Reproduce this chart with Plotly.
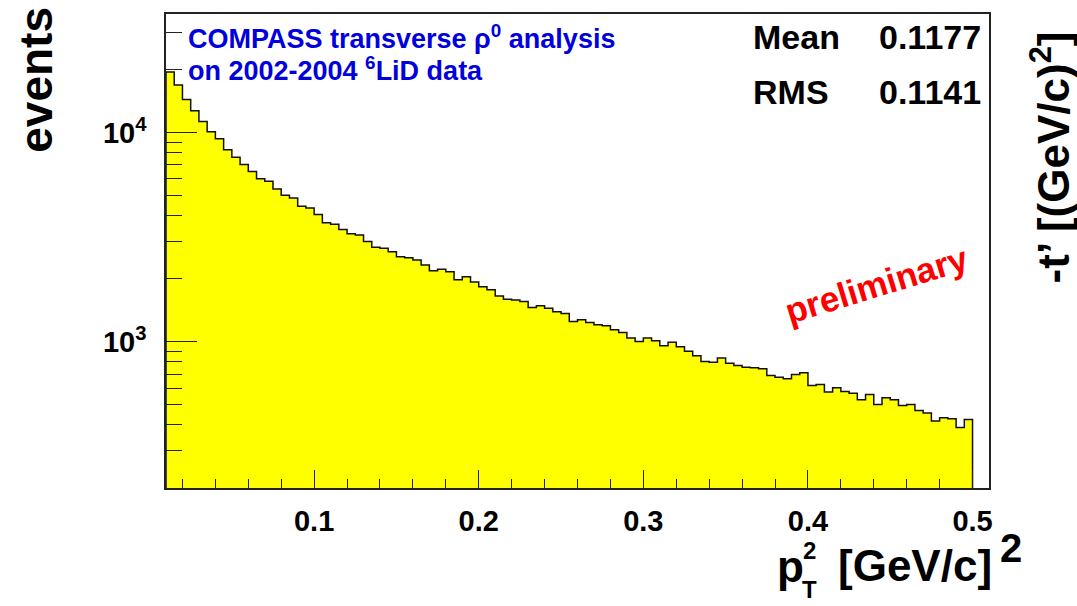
import numpy as np
import plotly.graph_objects as go

# ---------------- data ----------------
bin_low = 0.01      # lower edge of first bin  [GeV/c]^2
bin_width = 0.005   # bin width
counts = [
    19500, 16900, 14400, 12700, 11300, 10100, 9330, 8280, 7610, 7030,
    6520, 6020, 5850, 5375, 5010, 4870, 4445, 4360, 4060, 3700,
    3640, 3440, 3280, 3235, 3010, 2830, 2800,
    2690, 2550, 2520, 2455, 2325, 2180, 2220, 2160, 1975, 2045,
    1930, 1830, 1770, 1655, 1597, 1580, 1555, 1456, 1483, 1445,
    1390, 1364, 1250, 1273, 1236,
    1205, 1191, 1140, 1107, 1040, 1002, 1040, 1011, 957, 993,
    946, 899, 857, 803, 797, 836, 788, 769, 755, 750,
    742, 689, 676,
    665, 696, 710, 617, 624, 574, 602, 578, 567, 528,
    559, 500, 539, 528, 495, 501, 469, 456, 417, 433,
    428, 388, 424,
]
x_tick_vals = [0.1, 0.2, 0.3, 0.4, 0.5]
x_tick_text = ["0.1", "0.2", "0.3", "0.4", "0.5"]
y_tick_vals = [1000, 10000]
y_tick_text = ["10<sup>3</sup>", "10<sup>4</sup>"]
y_minor_vals = [300, 400, 500, 600, 700, 800, 900,
                2000, 3000, 4000, 5000, 6000, 7000, 8000, 9000, 20000, 30000]
stat_names = ["Mean", "RMS"]
stat_values = ["0.1177", "0.1141"]

# ---------------- layout geometry ----------------
W, H = 1077, 606
L, R, T, B = 166, 88, 12, 118
PW, PH = W - L - R, H - T - B
X_RANGE = [0.01, 0.51]
Y_LOG_RANGE = [2.30, 4.567]


def pp(x, y):
    """pixel -> paper coordinates"""
    return (x - L) / PW, (H - B - y) / PH


FONT = "Liberation Sans, Arial, Helvetica, sans-serif"

# ---------------- histogram outline + fill ----------------
edges = bin_low + bin_width * np.arange(len(counts) + 1)
bottom = 10 ** Y_LOG_RANGE[0] * 0.5
xs = np.repeat(edges, 2)
ys = np.concatenate([[bottom], np.repeat(np.array(counts, float), 2), [bottom]])

fig = go.Figure()
fig.add_trace(go.Scatter(
    x=xs, y=ys, mode="lines", fill="toself",
    fillcolor="#ffff00", line=dict(color="#111111", width=1.5),
    hoverinfo="skip", showlegend=False,
))

axis_common = dict(
    showline=True, linecolor="#222222", linewidth=1.5, mirror=True,
    showgrid=False, zeroline=False, ticks="inside", tickcolor="#222222",
    tickwidth=1.2,
    tickfont=dict(family=FONT, size=29, color="black", weight="bold"),
)

fig.update_xaxes(
    range=X_RANGE, tickmode="array", tickvals=x_tick_vals, ticktext=x_tick_text,
    ticklen=18, ticklabelstandoff=6,
    minor=dict(ticks="inside", dtick=0.02, tick0=0, ticklen=9,
               tickcolor="#222222", tickwidth=1.2),
    **axis_common,
)
fig.update_yaxes(
    type="log", range=Y_LOG_RANGE, tickmode="array",
    tickvals=y_tick_vals, ticktext=y_tick_text,
    ticklen=31, ticklabelstandoff=12,
    minor=dict(ticks="inside", tickmode="array", tickvals=y_minor_vals,
               ticklen=16, tickcolor="#222222", tickwidth=1.2),
    **axis_common,
)

ann = []


def add_text(text, x, y, size, color="black", xanchor="center", yanchor="middle",
             angle=0):
    px_, py_ = pp(x, y)
    ann.append(dict(
        text=text, x=px_, y=py_, xref="paper", yref="paper",
        xanchor=xanchor, yanchor=yanchor, showarrow=False, textangle=angle,
        font=dict(family=FONT, size=size, color=color, weight="bold"),
    ))


# title inside the plot
add_text("COMPASS transverse \u03c1<sup>0</sup> analysis", 186, 35, 27,
         color="#0000dd", xanchor="left")
add_text("on 2002-2004 <sup>6</sup>LiD data", 186, 67, 27,
         color="#0000dd", xanchor="left")

# statistics
for i, (n, v) in enumerate(zip(stat_names, stat_values)):
    yy = 35 + i * 55
    add_text(n, 751, yy, 34, xanchor="left")
    add_text(v, 983, yy, 34, xanchor="right")

# preliminary
add_text("preliminary", 876, 284, 35, color="#ff0000", angle=-17)

# axis titles
add_text("events", 36, 78, 46, angle=-90)
add_text("-t\u2019 [(GeV/c)<sup>2</sup>]", 1050, 156, 44, angle=-90)

# x title: p_T^2 [GeV/c]^2
add_text("p", 790, 567, 44)
add_text("2", 809, 551, 24)
add_text("T", 809, 590, 24)
add_text("[GeV/c]", 915, 566, 44)
add_text("2", 1011, 548, 40)

fig.update_layout(
    width=W, height=H,
    margin=dict(l=L, r=R, t=T, b=B, pad=0),
    paper_bgcolor="white", plot_bgcolor="white",
    annotations=ann, showlegend=False,
)

fig.write_html("out.html")
